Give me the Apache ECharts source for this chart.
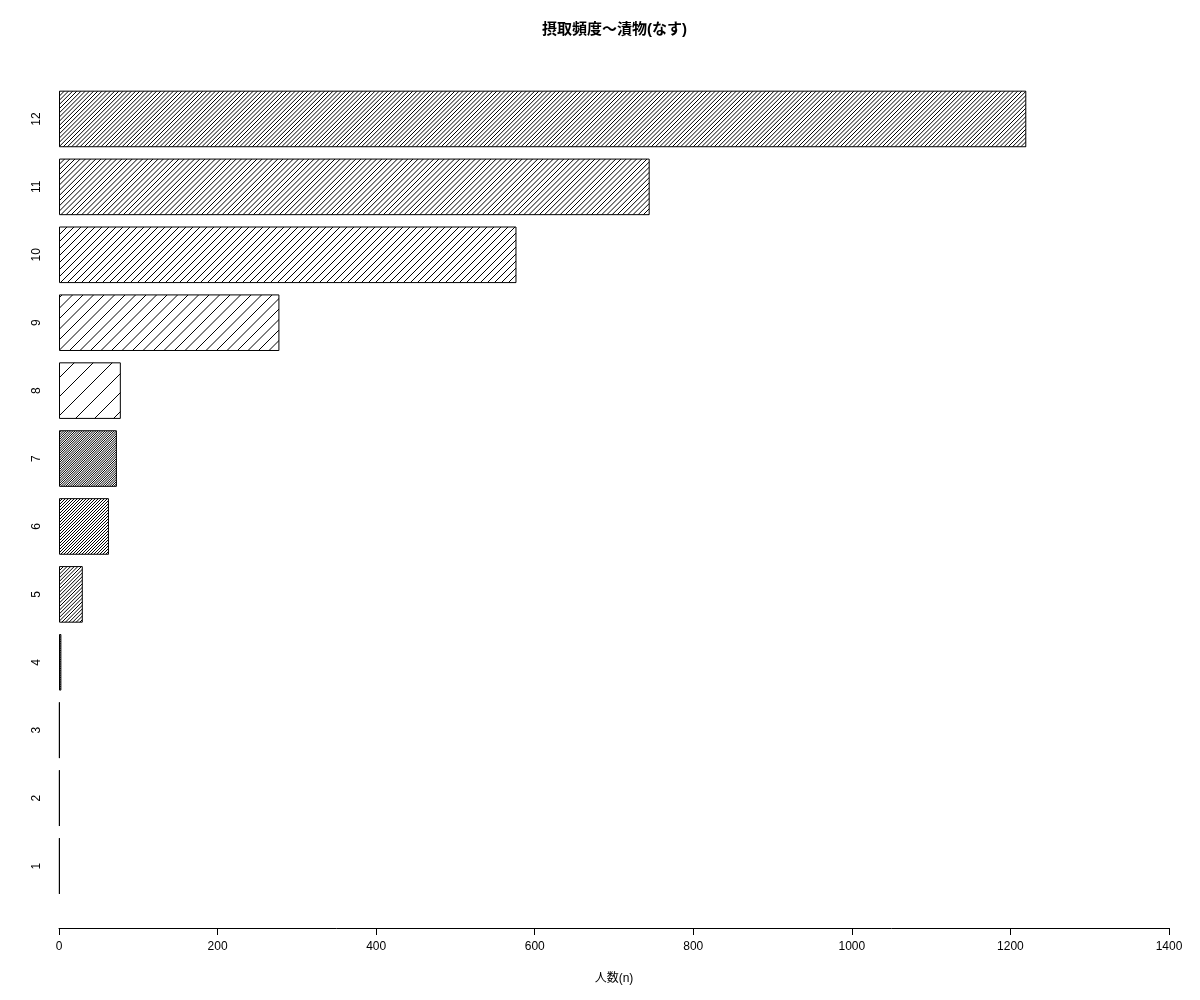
<!DOCTYPE html>
<html>
<head>
<meta charset="utf-8">
<script src="https://cdn.jsdelivr.net/npm/echarts@6/dist/echarts.min.js"></script>
<style>
  html, body { margin: 0; padding: 0; background: #fff; }
  #chart { width: 1200px; height: 1000px; }
</style>
</head>
<body>
<div id="chart"></div>
<script>
const categories = ['1', '2', '3', '4', '5', '6', '7', '8', '9', '10', '11', '12'];
const counts = [1, 1, 1, 3, 30, 63, 73, 78, 278, 577, 745, 1220];
const xTicks = [0, 200, 400, 600, 800, 1000, 1200, 1400];

// hatch spacing (px) per bar, like R's density argument
const hatchGap = [1.5, 1.5, 1.5, 1.8, 3.6, 3, 2.3, 19, 10.5, 7, 5.2, 4.2];

const chartDom = document.getElementById('chart');
const chart = echarts.init(chartDom);

const makeHatch = (s) => {
    const c = document.createElement('canvas');
    c.width = Math.round(s * 10);
    c.height = Math.round(s * 10);
    const ctx = c.getContext('2d');
    ctx.fillStyle = '#fff';
    ctx.fillRect(0, 0, c.width, c.height);
    ctx.strokeStyle = '#000';
    ctx.lineWidth = 1;
    const n = c.width;
    for (let k = -10; k <= 10; k++) {
        const x0 = k * n / 10;
        ctx.beginPath();
        ctx.moveTo(x0, n);
        ctx.lineTo(x0 + n, 0);
        ctx.stroke();
    }
    return c;
};

const barData = counts.map((v, i) => ({
    value: v,
    itemStyle: {
        color: { image: makeHatch(hatchGap[i]), repeat: 'repeat' }
    }
}));

const option = {
    animation: false,
    backgroundColor: '#fff',
    textStyle: { fontFamily: 'Liberation Sans, Arial, sans-serif' },
    title: {
        text: '摂取頻度～漬物(なす)',
        left: 537,
        top: 17,
        textStyle: {
            fontSize: 15,
            fontWeight: 'bold',
            color: '#000',
            fontFamily: 'Liberation Sans, "Noto Sans CJK JP", sans-serif'
        }
    },
    grid: {
        left: 59,
        right: 31,
        top: 85,
        bottom: 100
    },
    xAxis: {
        type: 'value',
        min: 0,
        max: 1400,
        interval: 200,
        offset: 28,
        name: '人数(n)',
        nameLocation: 'middle',
        nameGap: 45,
        nameTextStyle: {
            fontSize: 12,
            color: '#000',
            fontFamily: 'Liberation Sans, "Noto Sans CJK JP", sans-serif'
        },
        axisLine: { show: true, lineStyle: { color: '#000', width: 1 } },
        axisTick: { show: true, length: 7, lineStyle: { color: '#000' } },
        axisLabel: {
            color: '#000',
            fontSize: 12,
            margin: 13,
            formatter: (v) => xTicks.includes(v) ? String(v) : ''
        },
        splitLine: { show: false }
    },
    yAxis: {
        type: 'category',
        data: categories,
        axisLine: { show: false },
        axisTick: { show: false },
        axisLabel: {
            color: '#000',
            fontSize: 12,
            rotate: 90,
            margin: 16
        }
    },
    series: [{
        type: 'bar',
        data: barData,
        barCategoryGap: '16.7%',
        itemStyle: {
            borderColor: '#000',
            borderWidth: 1
        }
    }]
};

chart.setOption(option);
</script>
</body>
</html>
